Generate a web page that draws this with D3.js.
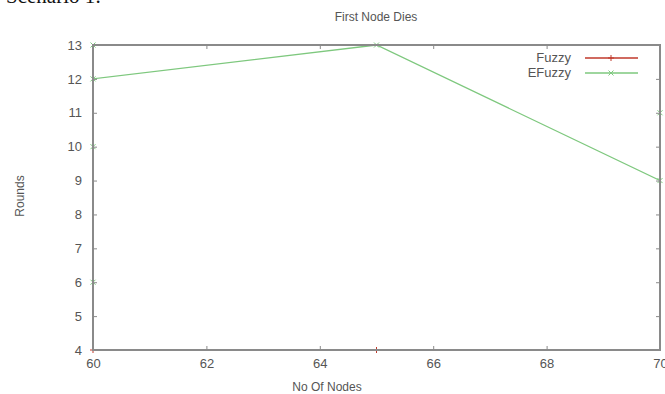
<!DOCTYPE html>
<html>
<head>
<meta charset="utf-8">
<script src="https://cdn.jsdelivr.net/npm/d3@7"></script>
<style>
  body { margin: 0; background: #fff; }
  text { font-family: "Liberation Sans", Arial, sans-serif; fill: #555; }
</style>
</head>
<body>
<svg id="chart" width="665" height="394"></svg>
<script>
// data
var fuzzyX = [60, 65];
var fuzzyY = [4, 4];
var efuzzyX = [60, 60, 60, 60, 65, 70, 70];
var efuzzyY = [6, 10, 13, 12, 13, 9, 11];
var xTicks = [60, 62, 64, 66, 68, 70];
var yTicks = [4, 5, 6, 7, 8, 9, 10, 11, 12, 13];

var svg = d3.select("#chart");
// plot box (avoid "top", which is window.top)
var plotLeft = 93, plotRight = 660, plotTop = 45, plotBottom = 350;

var x = d3.scaleLinear().domain([60, 70]).range([plotLeft, plotRight]);
var y = d3.scaleLinear().domain([4, 13]).range([plotBottom, plotTop]);

// scenario caption, cut off at the top
svg.append("text")
    .attr("x", 6).attr("y", 3)
    .style("font-family", "'Liberation Serif', 'Times New Roman', serif")
    .style("font-size", "21px")
    .style("fill", "#111")
    .text("Scenario 1:");

svg.append("text")
    .attr("x", 376).attr("y", 21)
    .attr("text-anchor", "middle")
    .style("font-size", "12px")
    .text("First Node Dies");

function series(xs, ys, color, marker) {
    var pts = xs.map(function (d, i) { return [d, ys[i]]; });
    var line = d3.line().x(function (d) { return x(d[0]); }).y(function (d) { return y(d[1]); });
    svg.append("path")
        .datum(pts)
        .attr("d", line)
        .attr("fill", "none")
        .attr("stroke", color)
        .attr("stroke-width", 1.3);
    svg.selectAll(null)
        .data(pts)
        .enter().append("path")
        .attr("d", marker)
        .attr("transform", function (d) { return "translate(" + x(d[0]) + "," + y(d[1]) + ")"; })
        .attr("stroke", color)
        .attr("stroke-width", 1)
        .attr("fill", "none");
}
var plus = "M-3,0H3M0,-3V3";
var cross = "M-2.5,-2.5L2.5,2.5M-2.5,2.5L2.5,-2.5";

series(fuzzyX, fuzzyY, "#c0392b", plus);
series(efuzzyX, efuzzyY, "#7ec87e", cross);

// border and ticks drawn in front, gnuplot style
var axisColor = "#8a8a8a";
svg.append("rect")
    .attr("x", plotLeft).attr("y", plotTop)
    .attr("width", plotRight - plotLeft).attr("height", plotBottom - plotTop)
    .attr("fill", "none")
    .attr("stroke", axisColor)
    .attr("stroke-width", 2);

var xAxisB = d3.axisBottom(x).tickValues(xTicks).tickSize(-4).tickPadding(9).tickFormat(d3.format("d"));
var xAxisT = d3.axisTop(x).tickValues(xTicks).tickSize(-4).tickFormat("");
var yAxisL = d3.axisLeft(y).tickValues(yTicks).tickSize(-4).tickPadding(11).tickFormat(d3.format("d"));
var yAxisR = d3.axisRight(y).tickValues(yTicks).tickSize(-4).tickFormat("");

function styleAxis(g) {
    g.select(".domain").remove();
    g.selectAll(".tick line").attr("stroke", axisColor).attr("stroke-width", 1);
    g.selectAll(".tick text")
        .style("font-family", "'Liberation Sans', Arial, sans-serif")
        .style("font-size", "13px")
        .attr("fill", "#555");
}
svg.append("g").attr("transform", "translate(0," + plotBottom + ")").call(xAxisB).call(styleAxis);
svg.append("g").attr("transform", "translate(0," + plotTop + ")").call(xAxisT).call(styleAxis);
svg.append("g").attr("transform", "translate(" + plotLeft + ",0)").call(yAxisL).call(styleAxis);
svg.append("g").attr("transform", "translate(" + plotRight + ",0)").call(yAxisR).call(styleAxis);

svg.append("text")
    .attr("x", 327).attr("y", 391)
    .attr("text-anchor", "middle")
    .style("font-size", "12px")
    .text("No Of Nodes");

svg.append("text")
    .attr("transform", "translate(24,196) rotate(-90)")
    .attr("text-anchor", "middle")
    .style("font-size", "12px")
    .text("Rounds");

// legend
var legend = [
    { name: "Fuzzy", color: "#c0392b", marker: plus },
    { name: "EFuzzy", color: "#7ec87e", marker: cross }
];
var lg = svg.selectAll(".leg").data(legend).enter().append("g")
    .attr("transform", function (d, i) { return "translate(0," + (58 + i * 15) + ")"; });
lg.append("text")
    .attr("x", 571).attr("y", 4)
    .attr("text-anchor", "end")
    .style("font-size", "13px")
    .text(function (d) { return d.name; });
lg.append("line")
    .attr("x1", 585).attr("x2", 638)
    .attr("stroke", function (d) { return d.color; })
    .attr("stroke-width", 1.3);
lg.append("path")
    .attr("d", function (d) { return d.marker; })
    .attr("transform", "translate(611,0)")
    .attr("stroke", function (d) { return d.color; })
    .attr("stroke-width", 1);
</script>
</body>
</html>
